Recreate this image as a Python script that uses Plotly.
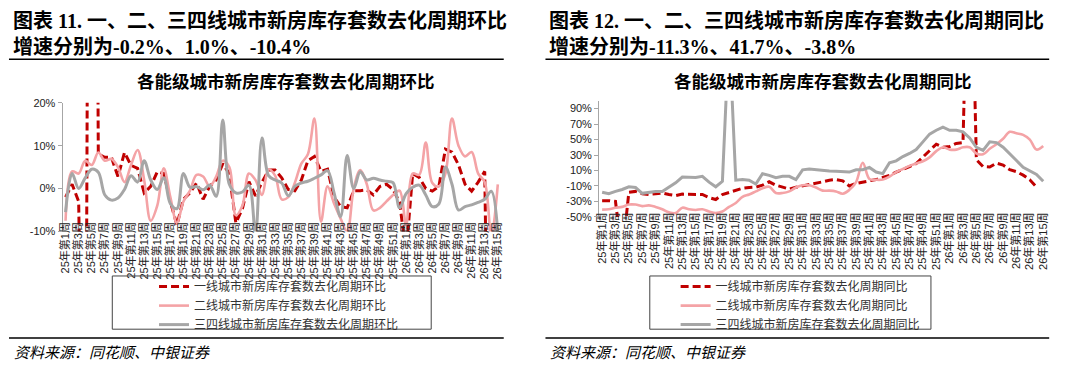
import plotly.graph_objects as go

W, H = 1080, 371

weeks = [f"25年第{i}周" for i in range(1, 53)] + [f"26年第{i}周" for i in range(1, 16)]

# 环比 (MoM, %)
tier1_mom = [-2, 1, -3, -100, 300, 8, 7.3, 7.3, 2.8, 8.4,
             5.4, 4.7, -1, 0.5, 3.9, 3.5, -3, -8.5, -2.5, -1,
             1.3, -2.5, 0.5, 2, 5.8, 3.5, -8, -4.7, 1.6, -1.7,
             1.5, 4.3, 4.3, 2.5, -0.2, -0.5, 2, 6.5, 7.5, 4,
             4.5, -2, -4.2, -4.5, -0.5, -0.5, -0.3, -1.5, 0.5, 1,
             -0.2, -3.2, -15, 3.5, 2.6, 0, -0.6, 0.5, 9.2, 8.5,
             5.5, 1, -0.6, 1.5, 4, -100, None]
tier2_mom = [-7.5, 4, 3.5, 6.5, 5.5, 8.4, 6.5, 6.9, 5, 1.5,
             5.5, 9, 2, -7.5, -4, 4.7, -2, -8, -3, -0.5,
             3.2, 2.8, 0.5, 2.8, 6.5, 5, -6.2, -4, 3.5, 2,
             -1.5, 4.5, 3, -2.5, -2, 1.3, 5.8, 8, 16.3, -7.7,
             0.5, -3.5, -7, -10, 0, 4.3, 1, -5.1, -4.5, -3,
             -1.5, -0.5, -8.5, 3.5, 3.2, 10.7, 1.3, 0.5, 3.5, 16.3,
             10, 7.5, 8.5, 3.5, 1.5, -11, 1.0]
tier34_mom = [-5.5, 3.5, 0, 2.5, 4.5, 3.8, -1.5, -2.7, -2.2, -0.2,
              3.0, 1.5, 6.5, 2, -0.2, 2.5, -3.5, -4.7, 3.5, 0.3,
              0.5, -0.3, 0.8, -1.8, 16, 1, -1, -0.8, 0.8, -10.5,
              11.8, 3, 2, 1.3, -1.7, 0.5, 1.3, 1.7, 2.4, 3.2,
              4.2, -1, -6.6, 7.7, 0, 3.9, 2, 2.4, 2, 1.7,
              1.4, -4.5, -1.2, 0.3, 0.8, -1.5, -4.2, -3.6, 5, 1,
              -5, -4.2, -3.8, -3.2, -2.5, -0.6, -10.4]

# 同比 (YoY, %)
tier1_yoy = [-29, -29, -30, -100, -18, -17, -20, -21, -20, -19,
             -21, -22.5, -20.5, -20.5, -20.5, -21, -25, -27.5, -21, -18,
             -15, -13, -12, -11.5, -9, -4.6, -9, -12, -14, -11.7,
             -10, -8.5, -7, -4.6, -2.5, -1.7, -3.3, -10, -6.7, -4.6,
             -3.3, -1.7, 0.8, 3.7, 8, 11, 15, 19, 27, 36,
             44, 40, 41, 45, 46, 400, 24, 15, 14.5, 19.5,
             17, 11, 8.5, 4, -2, -11.3, None]
tier2_yoy = [-40.5, -40, -38, -37, -34, -34, -36, -35, -37, -40,
             -44, -45, -38, -40, -41, -40, -43, -45, -43, -37,
             -32, -24, -21, -17, -13, -11, -19, -19, -17, -12,
             -9, -9, -12, -16, -16, -17, -20, -15, -5, 20,
             -1, -2, -1.7, 2, 8, 12, 16, 19, 22, 27,
             35, 40, 37, 37, 40, 40, 32, 31, 38, 44,
             51, 60, 58, 56, 50, 37, 41.7]
tier34_yoy = [-18, -20, -17, -14.5, -11, -12, -19.5, -18.5, -17, -17,
              -11, -6, 1.5, 1, 1, 2.5, -5, -11, -4, 190,
              -2.5, -1.7, -2.5, -7.5, 5.8, 3.7, 0.8, 2.5, 2.5, -1.7,
              10.8, 12, 11, 10, 9.5, 9, 8.7, 8, 11, 11,
              14, 8, 6, 20, 22.5, 28, 32, 37, 47, 57,
              62, 66, 62, 62, 60, 52, 40, 36, 47, 46,
              40, 32, 23, 14, 9, 5, -3.8]

names_mom = ["一线城市新房库存套数去化周期环比", "二线城市新房库存套数去化周期环比", "三四线城市新房库存套数去化周期环比"]
names_yoy = ["一线城市新房库存套数去化周期同比", "二线城市新房库存套数去化周期同比", "三四线城市新房库存套数去化周期同比"]

mom_ticks = [-10, 0, 10, 20]
yoy_ticks = [-50, -30, -10, 10, 30, 50, 70, 90]
mom_range = [-10, 20]
yoy_range = [-50, 100]

RED, PINK, GRAY = "#C00000", "#F4A3A6", "#A6A6A6"
styles = [dict(color=RED, width=3, dash="8px,4px"),
          dict(color=PINK, width=2.6),
          dict(color=GRAY, width=3)]
# series with off-scale spikes are drawn with straight segments
shapes_mom = ["linear", "spline", "spline"]
shapes_yoy = ["linear", "spline", "linear"]


def px(x):
    return x / W


def py(y):
    return 1 - y / H


fig = go.Figure()
for vals, name, st, shp in zip([tier1_mom, tier2_mom, tier34_mom], names_mom, styles, shapes_mom):
    fig.add_trace(go.Scatter(x=weeks, y=vals, name=name, mode="lines",
                             line=dict(shape=shp, **st),
                             xaxis="x", yaxis="y", legend="legend", connectgaps=False))
for vals, name, st, shp in zip([tier1_yoy, tier2_yoy, tier34_yoy], names_yoy, styles, shapes_yoy):
    fig.add_trace(go.Scatter(x=weeks, y=vals, name=name, mode="lines",
                             line=dict(shape=shp, **st),
                             xaxis="x2", yaxis="y2", legend="legend2", connectgaps=False))

tick_font = dict(family="Liberation Sans, Noto Sans CJK SC", size=11, color="#222")
xr = [-0.45, len(weeks) - 1 + 0.45]

dom_x1 = [px(59), px(500)]
dom_y1 = [py(233), py(100)]
dom_x2 = [px(599), px(1049)]
dom_y2 = [py(218), py(98)]

zero1 = dom_y1[0] + (0 - mom_range[0]) / (mom_range[1] - mom_range[0]) * (dom_y1[1] - dom_y1[0])
zero2 = dom_y2[0] + (0 - yoy_range[0]) / (yoy_range[1] - yoy_range[0]) * (dom_y2[1] - dom_y2[0])

xcommon = dict(range=xr, showgrid=False, zeroline=False, showline=False, ticks="",
               tickangle=-90, tickfont=tick_font, tickmode="array", tickvals=weeks[::2],
               fixedrange=True, anchor="free")
ycommon = dict(showgrid=False, zeroline=False, showline=True, linecolor=GRAY, linewidth=1,
               ticks="outside", ticklen=4, tickcolor=GRAY, tickfont=tick_font, fixedrange=True)
tickaxis = dict(type="linear", range=xr, showgrid=False, zeroline=False, showline=True,
                linecolor=GRAY, linewidth=1.5, ticks="outside", ticklen=4, tickcolor=GRAY,
                dtick=1, tick0=0, showticklabels=False, anchor="free", layer="below traces")

fig.update_layout(
    width=W, height=H, margin=dict(l=0, r=0, t=0, b=0),
    paper_bgcolor="white", plot_bgcolor="white", showlegend=True,
    xaxis=dict(domain=dom_x1, position=py(220), **xcommon),
    yaxis=dict(domain=dom_y1, anchor="x", range=mom_range, tickvals=mom_ticks,
               ticktext=[f"{v}%" for v in mom_ticks], **ycommon),
    xaxis2=dict(domain=dom_x2, position=py(210), **xcommon),
    yaxis2=dict(domain=dom_y2, anchor="x2", range=yoy_range, tickvals=yoy_ticks,
                ticktext=[f"{v}%" for v in yoy_ticks], **ycommon),
    xaxis3=dict(overlaying="x", position=zero1, **tickaxis),
    xaxis4=dict(overlaying="x2", position=zero2, **tickaxis),
    legend=dict(x=px(151), y=py(275), xanchor="left", yanchor="top",
                bgcolor="rgba(0,0,0,0)", borderwidth=0,
                font=dict(family="Noto Sans CJK SC", size=12, color="#333"), tracegroupgap=0),
    legend2=dict(x=px(676), y=py(275), xanchor="left", yanchor="top",
                 bgcolor="rgba(0,0,0,0)", borderwidth=0,
                 font=dict(family="Noto Sans CJK SC", size=12, color="#333"), tracegroupgap=0),
)

title_font = dict(family="Liberation Serif, Noto Sans CJK SC", size=20, color="#000")
sub_font = dict(family="Liberation Serif, Noto Sans CJK SC", size=17.5, color="#000")
src_font = dict(family="Noto Sans CJK SC", size=15, color="#000")

ann = [
    (7, 15, "<b>图表 11. 一、二、三四线城市新房库存套数去化周期环比</b>", title_font, "left"),
    (7, 42, "<b>增速分别为-0.2%、1.0%、-10.4%</b>", title_font, "left"),
    (547, 15, "<b>图表 12. 一、二、三四线城市新房库存套数去化周期同比</b>", title_font, "left"),
    (547, 42, "<b>增速分别为-11.3%、41.7%、-3.8%</b>", title_font, "left"),
    (284, 79, "<b>各能级城市新房库存套数去化周期环比</b>", sub_font, "center"),
    (824, 79, "<b>各能级城市新房库存套数去化周期同比</b>", sub_font, "center"),
    (8, 357, "<i>资料来源：同花顺、中银证券</i>", src_font, "left"),
    (548, 357, "<i>资料来源：同花顺、中银证券</i>", src_font, "left"),
]
for x, y, t, f, xa in ann:
    fig.add_annotation(x=px(x), y=py(y), xref="paper", yref="paper", text=t, showarrow=False,
                       font=f, xanchor=xa, yanchor="middle")

rules = [(5, 503, 55), (545, 1052, 55), (5, 503, 343), (545, 1052, 343)]
for x0, x1, y in rules:
    fig.add_shape(type="line", xref="paper", yref="paper", x0=px(x0), x1=px(x1), y0=py(y), y1=py(y),
                  line=dict(color="#000", width=1.5))
boxes = [(109, 430, 279, 334), (650, 933, 279, 334)]
for x0, x1, y0, y1 in boxes:
    fig.add_shape(type="rect", xref="paper", yref="paper", x0=px(x0), x1=px(x1), y0=py(y0), y1=py(y1),
                  line=dict(color="#444", width=1), fillcolor="rgba(0,0,0,0)")

fig.write_html("out.html", config={"displayModeBar": False},
               post_script="document.body.style.margin='0';")
